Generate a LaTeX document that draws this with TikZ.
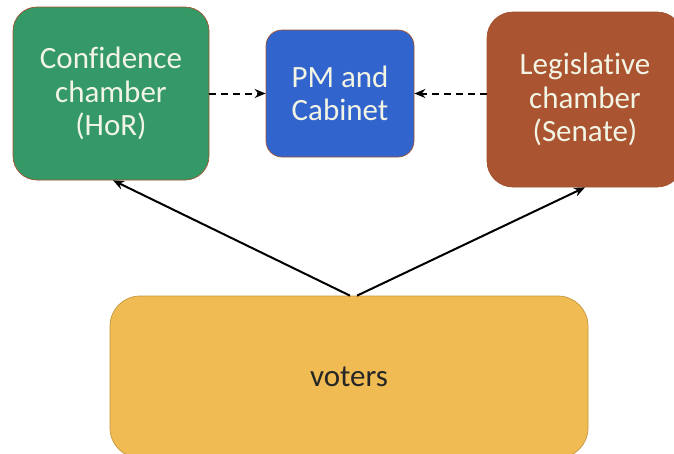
\documentclass[tikz,border=0pt]{standalone}
\usepackage{fontspec}
\setmainfont{Carlito}[Ligatures=NoCommon]
\usetikzlibrary{arrows.meta}
\definecolor{hocgreen}{RGB}{52,153,103}
\definecolor{pmblue}{RGB}{50,100,206}
\definecolor{senbrown}{RGB}{170,84,50}
\definecolor{votyellow}{RGB}{240,187,82}
\definecolor{rimbrown}{RGB}{160,82,45}
\definecolor{rimgold}{RGB}{196,150,62}
\definecolor{cream}{RGB}{242,244,228}

\begin{document}
\begin{tikzpicture}[x=1pt, y=-1pt,
    box/.style={draw=rimbrown, line width=.7pt, align=center, text=cream,
        font=\fontsize{31}{33.5}\selectfont, inner sep=0pt},
    link/.style={line width=2pt, -{Stealth[length=11pt, width=9pt]}},
    soft/.style={link, dash pattern=on 7pt off 5pt}]
    \useasboundingbox (0, 0) rectangle (674, 453);
    \clip (0, 0) rectangle (674, 453);

    \node[box, fill=hocgreen, rounded corners=24pt, minimum width=196pt, minimum height=173pt]
        (hor) at (111, 93.5) {Confidence\\chamber\\(HoR)};
    \node[box, fill=pmblue, rounded corners=16pt, minimum width=148pt, minimum height=127pt]
        (pm) at (340, 93.5) {PM and\\Cabinet};
    \node[box, fill=senbrown, rounded corners=26pt, minimum width=196pt, minimum height=175pt]
        (sen) at (585, 99.5) {Legislative\\chamber\\(Senate)};
    \node[box, draw=rimgold, fill=votyellow, text=black!85, rounded corners=30pt,
        minimum width=478pt, minimum height=162pt] (vot) at (349, 377) {voters};

    \draw[soft] (hor.east) -- (pm.west);
    \draw[soft] (sen.west |- pm.east) -- (pm.east);
    \draw[link] ([xshift=1pt]vot.north) -- ([xshift=2pt]hor.south);
    \draw[link] ([xshift=8pt]vot.north) -- (sen.south);
\end{tikzpicture}
\end{document}
